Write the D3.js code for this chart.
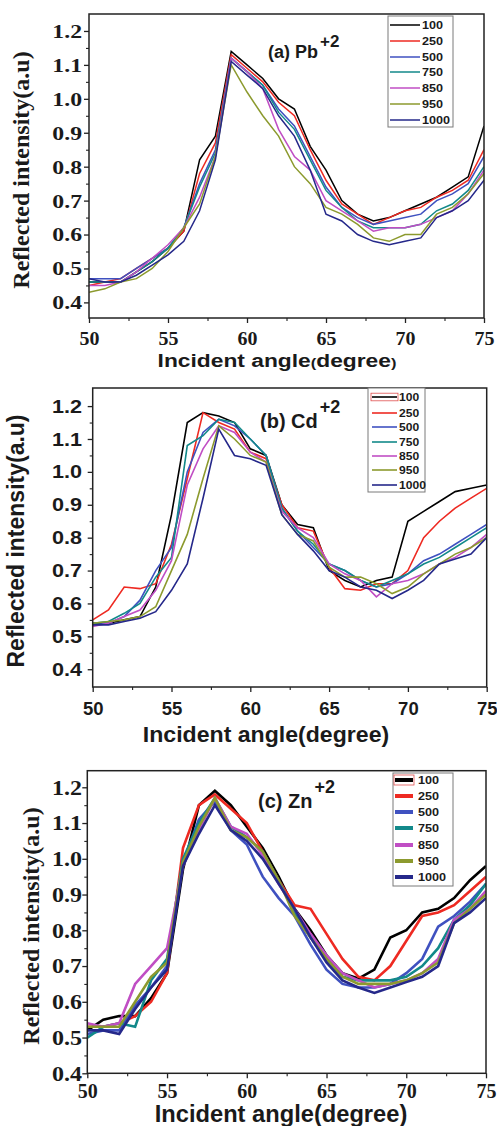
<!DOCTYPE html>
<html><head><meta charset="utf-8">
<script src="https://cdn.jsdelivr.net/npm/d3@7"></script>
<style>html,body{margin:0;padding:0;background:#fff;} svg{display:block;}</style>
</head><body>
<svg id="chart" width="497" height="1126"></svg>
<script>
// ---------------- data ----------------
const angles = [50,51,52,53,54,55,56,57,58,59,60,61,62,63,64,65,66,67,68,69,70,71,72,73,74,75];
const concentrations = ["100","250","500","750","850","950","1000"];
const seriesColors = ["#000000","#ee2a22","#3f51c0","#12898a","#c04ec4","#8c9a2e","#25288a"];

const pbValues = [
  [0.46,0.46,0.46,0.49,0.52,0.56,0.61,0.82,0.89,1.14,1.10,1.06,1.00,0.97,0.86,0.79,0.70,0.66,0.64,0.65,0.67,0.69,0.71,0.74,0.77,0.92],
  [0.45,0.46,0.47,0.50,0.53,0.56,0.61,0.78,0.87,1.13,1.09,1.05,0.99,0.95,0.85,0.76,0.69,0.66,0.63,0.65,0.67,0.68,0.71,0.73,0.76,0.85],
  [0.47,0.47,0.47,0.50,0.53,0.56,0.62,0.75,0.85,1.12,1.08,1.04,0.97,0.92,0.83,0.74,0.68,0.65,0.63,0.64,0.65,0.66,0.70,0.72,0.75,0.83],
  [0.46,0.46,0.46,0.49,0.52,0.56,0.62,0.74,0.84,1.12,1.08,1.04,0.96,0.91,0.82,0.73,0.68,0.64,0.62,0.62,0.62,0.63,0.67,0.69,0.73,0.80],
  [0.45,0.45,0.46,0.49,0.53,0.57,0.62,0.71,0.83,1.12,1.08,1.03,0.91,0.83,0.79,0.70,0.67,0.64,0.61,0.62,0.62,0.63,0.65,0.67,0.72,0.79],
  [0.43,0.44,0.46,0.47,0.50,0.55,0.62,0.69,0.83,1.10,1.02,0.95,0.89,0.80,0.75,0.68,0.66,0.63,0.59,0.58,0.60,0.60,0.66,0.68,0.72,0.78],
  [0.47,0.46,0.46,0.48,0.51,0.54,0.58,0.67,0.82,1.11,1.07,1.03,0.95,0.89,0.79,0.66,0.64,0.60,0.58,0.57,0.58,0.59,0.65,0.67,0.70,0.76]
];
const cdValues = [
  [0.54,0.54,0.55,0.56,0.65,0.87,1.15,1.18,1.17,1.15,1.07,1.05,0.90,0.84,0.83,0.70,0.67,0.65,0.67,0.68,0.85,0.88,0.91,0.94,0.95,0.96],
  [0.55,0.58,0.65,0.645,0.66,0.78,0.98,1.18,1.15,1.13,1.06,1.04,0.90,0.83,0.82,0.71,0.645,0.64,0.66,0.66,0.70,0.80,0.85,0.89,0.92,0.95],
  [0.535,0.54,0.56,0.61,0.70,0.77,1.00,1.12,1.16,1.14,1.10,1.05,0.89,0.82,0.77,0.72,0.70,0.67,0.65,0.66,0.69,0.73,0.75,0.78,0.81,0.84],
  [0.54,0.545,0.57,0.60,0.68,0.74,1.08,1.11,1.16,1.15,1.10,1.05,0.89,0.82,0.78,0.72,0.70,0.67,0.65,0.67,0.69,0.72,0.74,0.77,0.80,0.83],
  [0.53,0.54,0.56,0.58,0.64,0.73,0.96,1.07,1.14,1.12,1.06,1.03,0.88,0.83,0.80,0.72,0.69,0.67,0.62,0.66,0.67,0.69,0.72,0.74,0.77,0.81],
  [0.54,0.545,0.55,0.56,0.59,0.70,0.81,0.98,1.14,1.10,1.05,1.03,0.87,0.81,0.79,0.71,0.68,0.68,0.66,0.63,0.65,0.69,0.72,0.75,0.77,0.80],
  [0.535,0.535,0.545,0.555,0.575,0.64,0.72,0.92,1.13,1.05,1.04,1.02,0.87,0.81,0.76,0.70,0.68,0.65,0.64,0.615,0.64,0.67,0.72,0.735,0.75,0.80]
];
const znValues = [
  [0.52,0.55,0.56,0.56,0.61,0.68,0.97,1.15,1.19,1.15,1.09,1.03,0.95,0.86,0.80,0.73,0.68,0.665,0.69,0.78,0.80,0.85,0.86,0.89,0.94,0.98],
  [0.53,0.53,0.54,0.56,0.60,0.68,1.03,1.15,1.18,1.14,1.10,1.02,0.94,0.87,0.86,0.79,0.72,0.67,0.66,0.70,0.77,0.84,0.85,0.87,0.91,0.95],
  [0.51,0.52,0.52,0.59,0.64,0.70,0.99,1.11,1.16,1.08,1.04,0.95,0.89,0.84,0.76,0.69,0.65,0.64,0.64,0.65,0.68,0.72,0.81,0.84,0.88,0.93],
  [0.50,0.53,0.54,0.53,0.66,0.72,1.00,1.10,1.17,1.09,1.06,1.02,0.94,0.85,0.78,0.72,0.67,0.66,0.66,0.66,0.67,0.70,0.75,0.83,0.87,0.93],
  [0.54,0.53,0.54,0.65,0.70,0.75,0.98,1.08,1.17,1.09,1.07,1.01,0.93,0.86,0.79,0.73,0.68,0.66,0.64,0.65,0.66,0.68,0.72,0.83,0.86,0.91],
  [0.53,0.53,0.53,0.60,0.67,0.71,0.99,1.09,1.17,1.08,1.06,1.02,0.94,0.84,0.78,0.72,0.67,0.65,0.65,0.65,0.66,0.68,0.71,0.82,0.86,0.90],
  [0.52,0.52,0.51,0.58,0.64,0.69,0.98,1.07,1.15,1.08,1.05,1.00,0.93,0.86,0.78,0.71,0.66,0.64,0.625,0.64,0.655,0.67,0.70,0.82,0.85,0.89]
];

const xTickValues = [50,55,60,65,70,75];
const xMinorValues = [52.5,57.5,62.5,67.5,72.5];
const yTickValues = [0.4,0.5,0.6,0.7,0.8,0.9,1.0,1.1,1.2];
const yMinorValues = [0.45,0.55,0.65,0.75,0.85,0.95,1.05,1.15];
const yTickLabels = ["0.4","0.5","0.6","0.7","0.8","0.9","1.0","1.1","1.2"];
const xTitleText = "Incident angle(degree)";
const yTitleText = "Reflected intensity(a.u)";
const ionNames = ["(a) Pb","(b) Cd","(c) Zn"];
const ionCharge = "+2";

// ---------------- layout ----------------
const SERIF = "'Liberation Serif','Times New Roman',serif";
const SANS = "'Liberation Sans',Arial,sans-serif";

const panels = [
  { values: pbValues, name: ionNames[0], left: 89, right: 484, top: 14, bottom: 318, yDomain: [0.354, 1.25],
    tickFont: SERIF, yTickSize: 19, ySx: 1.25, yLabelRight: 82, xTickSize: 19, xSx: 1.05, xTickBase: 345,
    xTitle: { x: 277, y: 367, size: 19, sx: 1.2, font: SANS, smallParen: true },
    yTitle: { x: 29, y: 170, size: 24, font: SERIF },
    legend: { x0: 388, x1: 453, y0: 16, y1: 127, rows: [25,41,57,72,88,104,120], lx0: 390, lx1: 420, tx: 422, size: 10.5, sx: 1.2, lw: 1.5 },
    label: { x: 268, y: 58, size: 18, supSize: 17, supDy: -11 }, lw: 1.5 },
  { values: cdValues, name: ionNames[1], left: 92.7, right: 486.7, top: 388, bottom: 687, yDomain: [0.346, 1.255],
    tickFont: SANS, yTickSize: 18, ySx: 1.2, yLabelRight: 82, xTickSize: 18.5, xSx: 1.0, xTickBase: 715,
    xTitle: { x: 266, y: 742, size: 22, sx: 1.05, font: SANS },
    yTitle: { x: 24, y: 541, size: 23, font: SANS },
    legend: { x0: 368, x1: 425, y0: 388, y1: 492, rows: [397,413,427,442,456,470,485], lx0: 372, lx1: 397, tx: 399, size: 11, sx: 1.1, lw: 1.6, redBox: true },
    label: { x: 260, y: 428, size: 20, supSize: 18, supDy: -15 }, lw: 1.6 },
  { values: znValues, name: ionNames[2], left: 87.3, right: 486, top: 770.7, bottom: 1073.3, yDomain: [0.4, 1.2464],
    tickFont: SERIF, yTickSize: 20, ySx: 1.2, yLabelRight: 82, xTickSize: 20, xSx: 1.0, xTickBase: 1098,
    xTitle: { x: 281, y: 1122, size: 23, sx: 1.03, font: SANS },
    yTitle: { x: 39, y: 926, size: 24, font: SERIF },
    legend: { x0: 393, x1: 453, y0: 773, y1: 886, rows: [780,796,812,828,845,861,877], lx0: 395, lx1: 413, tx: 418, size: 11, sx: 1.15, lw: 4, redBox: true },
    label: { x: 258, y: 808, size: 20, supSize: 18, supDy: -15 }, lw: 2.6 }
];

const svg = d3.select("#chart");

panels.forEach((p, pi) => {
  const g = svg.append("g");
  const x = d3.scaleLinear().domain([50, 75]).range([p.left, p.right]);
  const y = d3.scaleLinear().domain(p.yDomain).range([p.bottom, p.top]);

  const clipId = "clip" + pi;
  svg.append("defs").append("clipPath").attr("id", clipId)
    .append("rect").attr("x", p.left).attr("y", p.top)
    .attr("width", p.right - p.left).attr("height", p.bottom - p.top);

  const line = d3.line().x((d, i) => x(angles[i])).y(d => y(d));
  g.append("g").attr("clip-path", `url(#${clipId})`)
    .selectAll("path").data(p.values).join("path")
    .attr("d", d => line(d))
    .attr("fill", "none")
    .attr("stroke", (d, i) => seriesColors[i])
    .attr("stroke-width", p.lw)
    .attr("stroke-linejoin", "miter");

  g.append("rect").attr("x", p.left).attr("y", p.top)
    .attr("width", p.right - p.left).attr("height", p.bottom - p.top)
    .attr("fill", "none").attr("stroke", "#222").attr("stroke-width", 1.5);

  const yAx = g.append("g").attr("transform", `translate(${p.left},0)`)
    .call(d3.axisLeft(y).tickValues(yTickValues).tickSize(5)
      .tickFormat((d, i) => yTickLabels[i]));
  yAx.select(".domain").remove();
  yAx.selectAll("line").attr("stroke", "#222").attr("stroke-width", 1.3);
  yAx.selectAll("text")
    .attr("x", null).attr("dy", null)
    .attr("transform", `translate(${p.yLabelRight - p.left},${p.yTickSize * 0.34}) scale(${p.ySx},1)`)
    .attr("text-anchor", "end")
    .attr("font-family", p.tickFont).attr("font-weight", "bold")
    .attr("font-size", p.yTickSize).attr("fill", "#1a1a1a");
  const yMin = g.append("g").attr("transform", `translate(${p.left},0)`)
    .call(d3.axisLeft(y).tickValues(yMinorValues).tickSize(3).tickFormat(""));
  yMin.select(".domain").remove();
  yMin.selectAll("line").attr("stroke", "#222").attr("stroke-width", 1.1);

  const xAx = g.append("g").attr("transform", `translate(0,${p.bottom})`)
    .call(d3.axisBottom(x).tickValues(xTickValues).tickSize(5).tickFormat(d3.format("d")));
  xAx.select(".domain").remove();
  xAx.selectAll("line").attr("stroke", "#222").attr("stroke-width", 1.3);
  xAx.selectAll("text")
    .attr("y", null).attr("dy", null)
    .attr("transform", `translate(0,${p.xTickBase - p.bottom}) scale(${p.xSx},1)`)
    .attr("text-anchor", "middle")
    .attr("font-family", p.tickFont).attr("font-weight", "bold")
    .attr("font-size", p.xTickSize).attr("fill", "#1a1a1a");
  const xMin = g.append("g").attr("transform", `translate(0,${p.bottom})`)
    .call(d3.axisBottom(x).tickValues(xMinorValues).tickSize(3).tickFormat(""));
  xMin.select(".domain").remove();
  xMin.selectAll("line").attr("stroke", "#222").attr("stroke-width", 1.1);

  const xt = g.append("text")
    .attr("transform", `translate(${p.xTitle.x},${p.xTitle.y}) scale(${p.xTitle.sx},1)`)
    .attr("text-anchor", "middle")
    .attr("font-family", p.xTitle.font).attr("font-weight", "bold")
    .attr("font-size", p.xTitle.size).attr("fill", "#1a1a1a");
  if (p.xTitle.smallParen) {
    const parts = xTitleText.split(/([()])/).filter(s => s.length);
    parts.forEach(s => {
      xt.append("tspan").text(s)
        .attr("font-size", (s === "(" || s === ")") ? p.xTitle.size * 0.72 : p.xTitle.size);
    });
  } else {
    xt.text(xTitleText);
  }

  g.append("text")
    .attr("transform", `translate(${p.yTitle.x},${p.yTitle.y}) rotate(-90)`)
    .attr("text-anchor", "middle")
    .attr("font-family", p.yTitle.font).attr("font-weight", "bold")
    .attr("font-size", p.yTitle.size).attr("fill", "#1a1a1a")
    .text(yTitleText);

  const lab = g.append("text")
    .attr("x", p.label.x).attr("y", p.label.y)
    .attr("font-family", SANS).attr("font-weight", "bold")
    .attr("font-size", p.label.size).attr("fill", "#1a1a1a");
  lab.append("tspan").text(p.name);
  lab.append("tspan").attr("dy", p.label.supDy).attr("dx", 2)
    .attr("font-size", p.label.supSize).text(ionCharge);

  const L = p.legend;
  const lg = g.append("g");
  lg.append("rect").attr("x", L.x0).attr("y", L.y0)
    .attr("width", L.x1 - L.x0).attr("height", L.y1 - L.y0)
    .attr("fill", "#fff").attr("stroke", "#7a7a7a").attr("stroke-width", 1);
  const rows = lg.selectAll("g.row").data(concentrations).join("g").attr("class", "row");
  rows.append("line")
    .attr("x1", L.lx0).attr("x2", L.lx1)
    .attr("y1", (d, i) => L.rows[i]).attr("y2", (d, i) => L.rows[i])
    .attr("stroke", (d, i) => seriesColors[i]).attr("stroke-width", L.lw);
  rows.append("text")
    .attr("transform", (d, i) => `translate(${L.tx},${L.rows[i] + L.size * 0.36}) scale(${L.sx},1)`)
    .attr("font-family", SANS).attr("font-weight", "bold")
    .attr("font-size", L.size).attr("fill", "#1a1a1a")
    .text(d => d);
  if (L.redBox) {
    lg.append("rect").attr("x", L.lx0 - 1).attr("y", L.rows[0] - L.lw / 2 - 3)
      .attr("width", L.lx1 - L.lx0 + 2).attr("height", L.lw + 6)
      .attr("fill", "none").attr("stroke", "#e05050").attr("stroke-width", 0.8);
  }
});
</script>
</body></html>
